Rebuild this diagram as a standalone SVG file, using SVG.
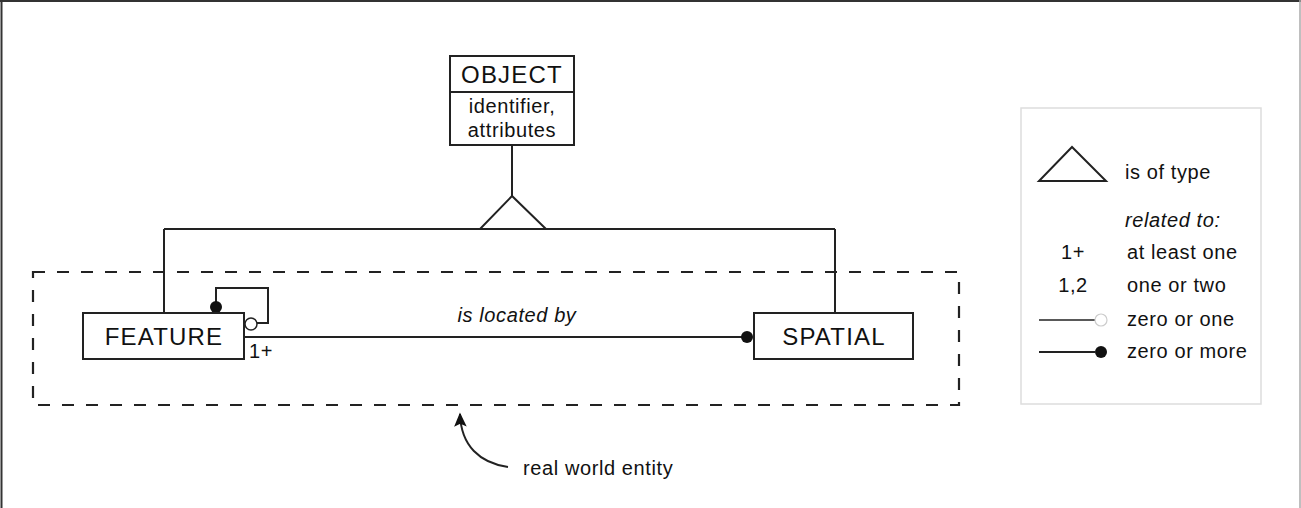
<svg xmlns="http://www.w3.org/2000/svg" width="1301" height="508" viewBox="0 0 1301 508">
<style>
text{font-family:"Liberation Sans",Arial,sans-serif;fill:#111}
.box{fill:#fff;stroke:#222;stroke-width:2}
.ln{fill:none;stroke:#222;stroke-width:2}
.big{font-size:24px;letter-spacing:1.2px}
.med{font-size:20px;letter-spacing:0.6px}
.it{font-style:italic}
</style>
<defs>
<marker id="ah" viewBox="0 0 10 10" refX="9" refY="5" markerWidth="8" markerHeight="7" orient="auto-start-reverse" markerUnits="strokeWidth">
<path d="M0,0.5 L10,5 L0,9.5 L2,5 z" fill="#111"/>
</marker>
</defs>
<rect x="0" y="0" width="1301" height="508" fill="#fff"/>
<line x1="0" y1="1" x2="1301" y2="1" stroke="#333" stroke-width="2"/>
<line x1="1.5" y1="0" x2="1.5" y2="508" stroke="#333" stroke-width="2"/>
<line x1="1300" y1="0" x2="1300" y2="508" stroke="#aaa" stroke-width="1.5"/>

<g id="real-world-entity">
<rect x="33" y="272" width="926" height="133" fill="none" stroke="#222" stroke-width="2.2" stroke-dasharray="12 12"/>
<path class="ln" d="M508,467 C480,463 461,446 460,414" marker-end="url(#ah)"/>
<text class="med" x="523" y="475">real world entity</text>
</g>

<g id="connectors">
<line class="ln" x1="512" y1="145" x2="512" y2="196"/>
<polygon points="512,196 480,229 546,229" fill="#fff" stroke="#222" stroke-width="2"/>
<line class="ln" x1="164" y1="229" x2="835" y2="229"/>
<line class="ln" x1="164" y1="229" x2="164" y2="313"/>
<line class="ln" x1="835" y1="229" x2="835" y2="313"/>
<line class="ln" x1="244" y1="337" x2="747" y2="337"/>
<circle cx="747" cy="337" r="6" fill="#111"/>
<polyline class="ln" points="216,307 216,288 268,288 268,323 257,323"/>
<circle cx="216" cy="307" r="6" fill="#111"/>
<circle cx="251" cy="324" r="6" fill="#fff" stroke="#222" stroke-width="1.5"/>
<text class="med it" x="517" y="322" text-anchor="middle">is located by</text>
<text class="med" x="249" y="358">1+</text>
</g>

<g id="object">
<rect class="box" x="450" y="56" width="124" height="89"/>
<line class="ln" x1="450" y1="92" x2="574" y2="92"/>
<text class="big" x="512" y="83" text-anchor="middle">OBJECT</text>
<text class="med" x="512" y="113" text-anchor="middle">identifier,</text>
<text class="med" x="512" y="137" text-anchor="middle">attributes</text>
</g>

<g id="feature">
<rect class="box" x="83" y="313" width="161" height="46"/>
<text class="big" x="164" y="345" text-anchor="middle">FEATURE</text>
</g>

<g id="spatial">
<rect class="box" x="754" y="313" width="159" height="46"/>
<text class="big" x="834" y="345" text-anchor="middle">SPATIAL</text>
</g>

<g id="legend">
<rect x="1021" y="108" width="240" height="296" fill="#fff" stroke="#ddd" stroke-width="1.5"/>
<polygon points="1072,147 1039,181 1106,181" fill="#fff" stroke="#222" stroke-width="2"/>
<text class="med" x="1125" y="179">is of type</text>
<text class="med it" x="1125" y="227">related to:</text>
<text class="med" x="1073" y="259" text-anchor="middle">1+</text>
<text class="med" x="1127" y="259">at least one</text>
<text class="med" x="1073" y="292" text-anchor="middle">1,2</text>
<text class="med" x="1127" y="292">one or two</text>
<line x1="1039" y1="320" x2="1095" y2="320" stroke="#222" stroke-width="1.5"/>
<circle cx="1101" cy="320" r="6" fill="#fff" stroke="#ccc" stroke-width="1.2"/>
<text class="med" x="1127" y="326">zero or one</text>
<line x1="1039" y1="352" x2="1095" y2="352" stroke="#222" stroke-width="2"/>
<circle cx="1101" cy="352" r="6" fill="#111"/>
<text class="med" x="1127" y="358">zero or more</text>
</g>
</svg>
